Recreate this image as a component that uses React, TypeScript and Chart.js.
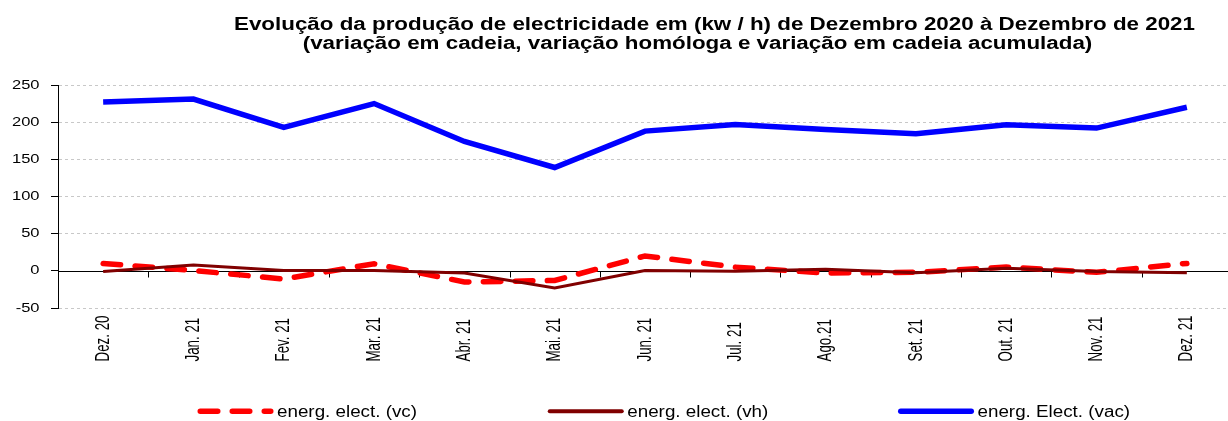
import React, { useEffect, useRef } from 'react';
import { Chart, registerables } from 'chart.js';

Chart.register(...registerables);

const categories = ['Dez. 20', 'Jan. 21', 'Fev. 21', 'Mar. 21', 'Abr. 21', 'Mai. 21', 'Jun. 21', 'Jul. 21', 'Ago.21', 'Set. 21', 'Out. 21', 'Nov. 21', 'Dez. 21'];
const vcValues = [10, 0.5, -11, 9.5, -15, -13, 20, 5, -3, -2, 5, -2, 10];
const vhValues = [-1, 8, 0.5, 0.5, -3, -23, 0.5, -0.5, 2, -2.5, 3.5, -1, -2.5];
const vacValues = [227, 231, 193, 225, 174, 139, 188, 197, 190, 184.5, 196.5, 192, 220];
const seriesLabels = ['energ. elect. (vc)', 'energ. elect. (vh)', 'energ. Elect. (vac)'];
const titleLines = [
  'Evolução da produção de electricidade em (kw / h) de Dezembro 2020 à Dezembro de 2021',
  '(variação em cadeia, variação homóloga e variação em cadeia acumulada)',
];
const yMin = -50;
const yMax = 250;
const yStep = 50;

const FONT = '"Liberation Sans", Arial, Helvetica, sans-serif';

function drawText(
  ctx: CanvasRenderingContext2D,
  text: string,
  x: number,
  y: number,
  o: { font: string; sx?: number; sy?: number; align?: CanvasTextAlign; baseline?: CanvasTextBaseline; color?: string; rotate?: number }
) {
  ctx.save();
  ctx.font = o.font;
  ctx.fillStyle = o.color || '#000';
  ctx.textAlign = o.align || 'left';
  ctx.textBaseline = o.baseline || 'alphabetic';
  ctx.translate(x, y);
  if (o.rotate) ctx.rotate(o.rotate);
  ctx.scale(o.sx || 1, o.sy || 1);
  ctx.fillText(text, 0, 0);
  ctx.restore();
}

const decorPlugin = {
  id: 'decor',
  beforeDatasetsDraw(chart: any) {
    const { ctx, chartArea } = chart;
    const xs = chart.scales.x;
    const ys = chart.scales.y;
    const y0 = Math.round(ys.getPixelForValue(0)) + 0.5;
    ctx.save();
    ctx.strokeStyle = '#000';
    ctx.lineWidth = 1;
    ctx.beginPath();
    ctx.moveTo(chartArea.left, y0);
    ctx.lineTo(chartArea.right, y0);
    const n = chart.data.labels.length;
    for (let i = 1; i < n; i++) {
      const bx = Math.round((xs.getPixelForValue(i - 1) + xs.getPixelForValue(i)) / 2) + 0.5;
      ctx.moveTo(bx, y0);
      ctx.lineTo(bx, y0 + 6);
    }
    ctx.stroke();
    ctx.restore();
  },
  afterDraw(chart: any) {
    const { ctx, chartArea } = chart;
    const xs = chart.scales.x;
    const ys = chart.scales.y;

    // title
    ctx.save();
    ctx.font = `bold 17.5px ${FONT}`;
    const w1 = ctx.measureText(titleLines[0]).width;
    ctx.restore();
    const tsx = 961 / w1;
    drawText(ctx, titleLines[0], 714.5, 29.5, { font: `bold 17.5px ${FONT}`, sx: tsx, align: 'center', color: '#000' });
    drawText(ctx, titleLines[1], 697.5, 48.5, { font: `bold 17.5px ${FONT}`, sx: tsx, align: 'center', color: '#000' });

    // y tick labels
    ys.ticks.forEach((t: any) => {
      const py = ys.getPixelForValue(t.value);
      drawText(ctx, String(t.value), chartArea.left - 18.5, py, {
        font: `13px ${FONT}`, sx: 1.27, align: 'right', baseline: 'middle', color: '#000',
      });
    });

    // x category labels (rotated, aligned at their start)
    (chart.data.labels as string[]).forEach((lab, i) => {
      const px = xs.getPixelForValue(i);
      drawText(ctx, lab, px, chartArea.bottom + 53.5, {
        font: `15px ${FONT}`, sx: 0.89, sy: 1.35, align: 'left', baseline: 'middle', rotate: -Math.PI / 2, color: '#000',
      });
    });

    // legend
    ctx.save();
    ctx.font = `16px ${FONT}`;
    const lw = ctx.measureText(chart.data.datasets[0].label).width;
    ctx.restore();
    const lsx = 140 / lw;
    const legendY = 411.3;
    chart.data.datasets.forEach((ds: any, i: number) => {
      const start = 197.5 + i * 350.25;
      const w = Math.max(ds.borderWidth, 4);
      ctx.save();
      ctx.strokeStyle = ds.borderColor;
      ctx.lineWidth = w;
      ctx.lineCap = 'round';
      ctx.setLineDash(ds.borderDash || []);
      ctx.beginPath();
      ctx.moveTo(start + w / 2, legendY);
      ctx.lineTo(start + 76 - w / 2, legendY);
      ctx.stroke();
      ctx.restore();
      drawText(ctx, ds.label, start + 79.5, 417, { font: `16px ${FONT}`, sx: lsx, align: 'left', color: '#000' });
    });
  },
};

export default function App() {
  const ref = useRef<HTMLCanvasElement | null>(null);

  useEffect(() => {
    if (!ref.current) return;
    const chart = new Chart(ref.current, {
      type: 'line',
      data: {
        labels: categories,
        datasets: [
          {
            label: seriesLabels[0],
            data: vcValues,
            borderColor: '#FF0000',
            backgroundColor: '#FF0000',
            borderWidth: 5.5,
            borderDash: [17.5, 14.5],
            borderCapStyle: 'round',
            pointRadius: 0,
            tension: 0,
            fill: false,
            order: 3,
          },
          {
            label: seriesLabels[1],
            data: vhValues,
            borderColor: '#800000',
            backgroundColor: '#800000',
            borderWidth: 3,
            pointRadius: 0,
            tension: 0,
            fill: false,
            order: 2,
          },
          {
            label: seriesLabels[2],
            data: vacValues,
            borderColor: '#0000FF',
            backgroundColor: '#0000FF',
            borderWidth: 5.5,
            pointRadius: 0,
            tension: 0,
            fill: false,
            order: 1,
          },
        ],
      },
      options: {
        responsive: false,
        animation: false,
        layout: { padding: { top: 85, right: 4, bottom: 0, left: 0 } },
        plugins: {
          legend: { display: false },
          title: { display: false },
          tooltip: { enabled: false },
        },
        scales: {
          x: {
            type: 'category',
            offset: true,
            grid: { display: false },
            ticks: { display: false },
            border: { display: false },
            afterFit: (s: any) => { s.height = 113; },
          },
          y: {
            min: yMin,
            max: yMax,
            ticks: { stepSize: yStep, display: false },
            grid: {
              color: (c: any) => (c.tick && c.tick.value === 0 ? 'rgba(0,0,0,0)' : '#C8C8C8'),
              lineWidth: 1,
              drawTicks: true,
              tickLength: 7,
              tickColor: '#000',
              tickWidth: 1,
            },
            border: { display: true, color: '#000', width: 1, dash: [3, 3] },
            afterFit: (s: any) => { s.width = 58; },
          },
        },
      },
      plugins: [decorPlugin],
    } as any);
    return () => chart.destroy();
  }, []);

  return (
    <div style={{ position: 'absolute', left: 0, top: 0, width: 1228, height: 421, overflow: 'hidden', background: '#fff' }}>
      <canvas ref={ref} width={1236} height={421} style={{ display: 'block', width: 1236, height: 421 }} />
    </div>
  );
}
